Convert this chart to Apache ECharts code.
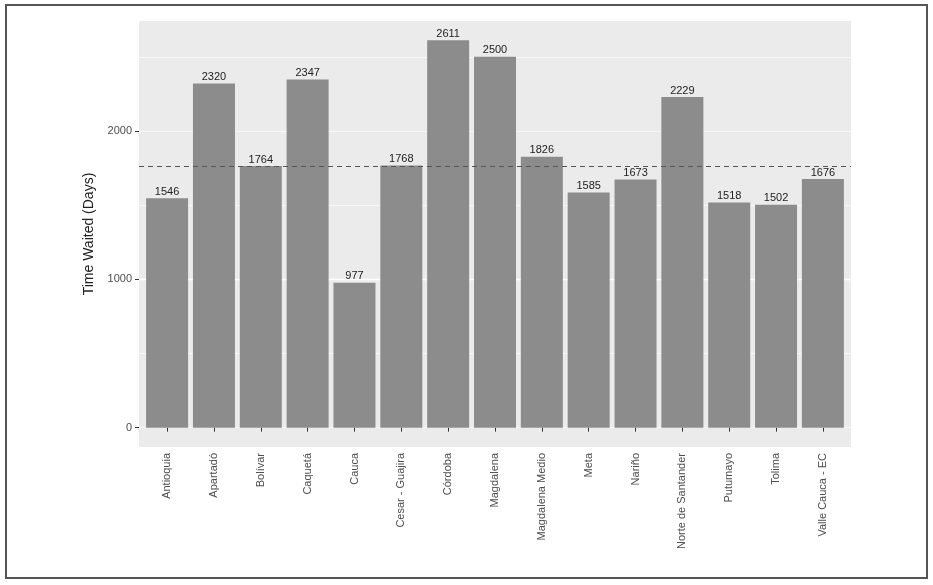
<!DOCTYPE html>
<html>
<head>
<meta charset="utf-8">
<script src="https://cdn.jsdelivr.net/npm/echarts@6/dist/echarts.min.js"></script>
<style>
  html, body { margin: 0; padding: 0; background: #fff; }
  #main { width: 933px; height: 585px; }
</style>
</head>
<body>
<div id="main"></div>
<script>
const regions = ['Antioquia', 'Apartadó', 'Bolívar', 'Caquetá', 'Cauca', 'Cesar - Guajira', 'Córdoba',
  'Magdalena', 'Magdalena Medio', 'Meta', 'Nariño', 'Norte de Santander', 'Putumayo', 'Tolima', 'Valle Cauca - EC'];
const daysWaited = [1546, 2320, 1764, 2347, 977, 1768, 2611, 2500, 1826, 1585, 1673, 2229, 1518, 1502, 1676];
const yTickValues = [0, 1000, 2000];

// median of all regions -> dashed reference line
const sorted = daysWaited.slice().sort((a, b) => a - b);
const medianDays = sorted[Math.floor(sorted.length / 2)];

// ggplot style expansion: 5% on y, 0.6 units on discrete x
const yMax = Math.max(...daysWaited);
const yPad = yMax * 0.05;
const xPositions = regions.map((r, i) => i + 1);

const chart = echarts.init(document.getElementById('main'));

const option = {
  animation: false,
  textStyle: {fontFamily: 'Liberation Sans, Arial, sans-serif'},
  graphic: [{
    type: 'rect',
    shape: {x: 6, y: 5, width: 921, height: 573},
    style: {fill: 'none', stroke: '#555', lineWidth: 2},
    silent: true
  }],
  grid: {
    left: 139, right: 82, top: 21, bottom: 138,
    show: true, backgroundColor: '#ebebeb', borderWidth: 0
  },
  xAxis: {
    type: 'value',
    min: 0.4,
    max: regions.length + 0.6,
    axisLine: {show: false},
    splitLine: {show: false},
    axisTick: {show: true, length: 4, customValues: xPositions, lineStyle: {color: '#333'}},
    axisLabel: {
      customValues: xPositions,
      rotate: 90,
      margin: 6,
      fontSize: 11,
      color: '#4d4d4d',
      formatter: (v) => regions[Math.round(v) - 1] || ''
    }
  },
  yAxis: [
    {
      // minor grid lines
      type: 'value',
      min: -yPad, max: yMax + yPad,
      splitNumber: 6,
      position: 'left',
      axisLine: {show: false},
      axisTick: {show: false},
      axisLabel: {show: false},
      splitLine: {show: true, showMinLine: false, showMaxLine: false, lineStyle: {color: '#fff', width: 0.6}}
    },
    {
      type: 'value',
      min: -yPad, max: yMax + yPad,
      splitNumber: 3,
      position: 'left',
      name: 'Time Waited (Days)',
      nameLocation: 'middle',
      nameGap: 39,
      nameTextStyle: {fontSize: 14, color: '#222'},
      axisLine: {show: false},
      axisTick: {show: true, length: 4, customValues: yTickValues, lineStyle: {color: '#333'}},
      axisLabel: {
        customValues: yTickValues, margin: 7, fontSize: 11, color: '#4d4d4d',
        formatter: (v) => String(v)
      },
      splitLine: {show: true, showMinLine: false, showMaxLine: false, lineStyle: {color: '#fff', width: 1.4}}
    }
  ],
  series: [{
    type: 'bar',
    yAxisIndex: 1,
    barWidth: 42,
    data: daysWaited.map((v, i) => [xPositions[i], v]),
    itemStyle: {color: '#8c8c8c'},
    label: {
      show: true,
      position: 'top',
      distance: 1,
      fontSize: 11,
      color: '#222',
      formatter: (p) => p.value[1]
    },
    markLine: {
      silent: true,
      symbol: 'none',
      label: {show: false},
      lineStyle: {type: [5, 4], color: '#555', width: 1},
      data: [{yAxis: medianDays}]
    }
  }]
};

chart.setOption(option);
</script>
</body>
</html>
